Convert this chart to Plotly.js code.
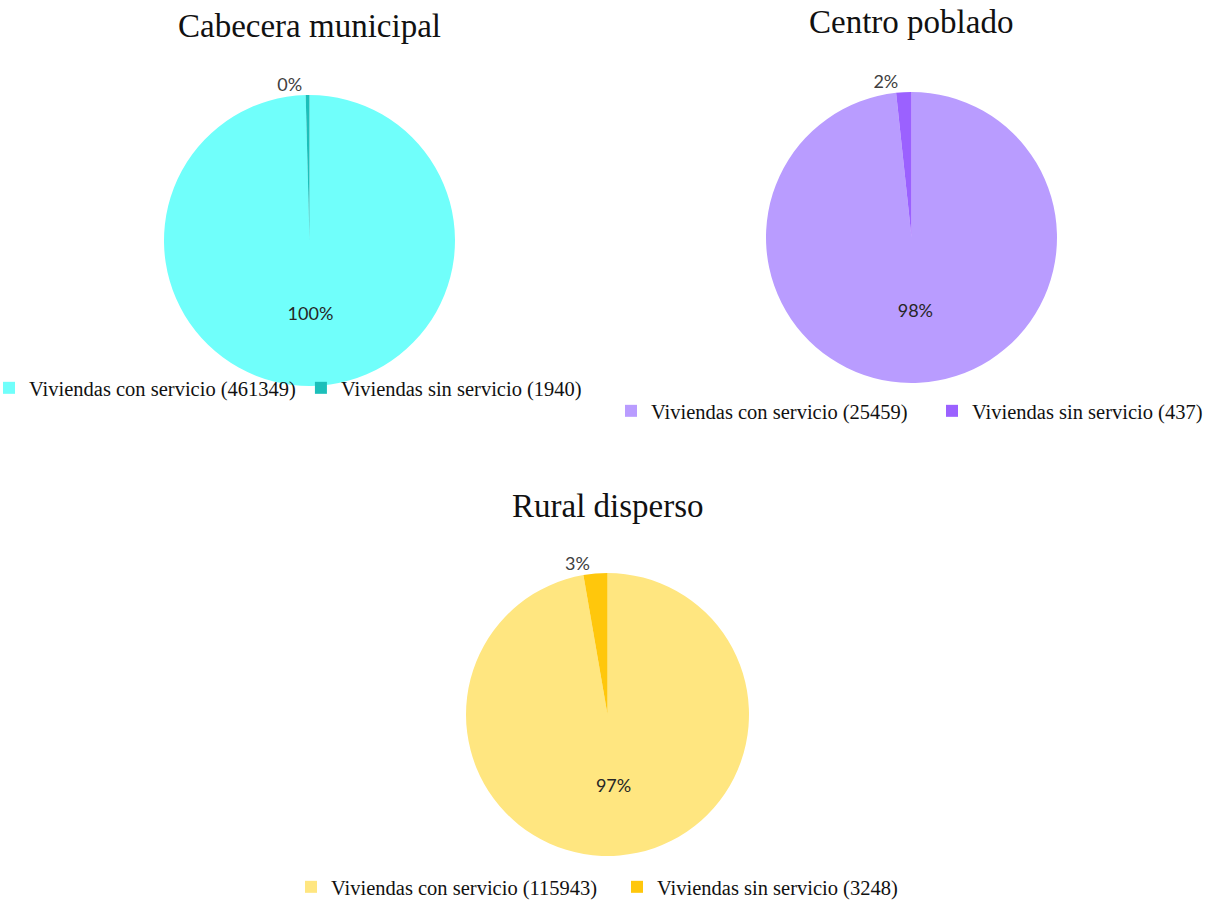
<!DOCTYPE html>
<html>
<head>
<meta charset="utf-8">
<script src="https://cdn.plot.ly/plotly-3.0.1.min.js"></script>
<style>html,body{margin:0;padding:0;background:#fff;}#chart{width:1211px;height:902px;}</style>
</head>
<body>
<div id="chart"></div>
<script>
const categories = ["Viviendas con servicio", "Viviendas sin servicio"];
const titles = ["Cabecera municipal", "Centro poblado", "Rural disperso"];
const cabeceraValues = [461349, 1940];
const centroValues = [25459, 437];
const ruralValues = [115943, 3248];
const cabeceraColors = ["#70FFFB", "#1CBFBA"];
const centroColors = ["#B99CFF", "#9B61FF"];
const ruralColors = ["#FFE680", "#FFC70C"];

const serif = "Liberation Serif, Times New Roman, serif";
const sans = "Lato, Carlito, Calibri, sans-serif";

function labelsFor(vals) {
  return categories.map((c, i) => c + " (" + vals[i] + ")");
}

function pieTrace(vals, colors, domain, legendId) {
  return {
    type: "pie",
    labels: labelsFor(vals),
    values: vals,
    sort: false,
    direction: "clockwise",
    rotation: 0,
    marker: {colors: colors, line: {width: 0}},
    texttemplate: "%{percent:.0%}",
    textinfo: "percent",
    textposition: ["inside", "outside"],
    insidetextorientation: "horizontal",
    textfont: {family: sans, size: 18, color: "#404040"},
    outsidetextfont: {family: sans, size: 18, color: "#404040"},
    insidetextfont: {family: sans, size: 18, color: "#262626"},
    domain: domain,
    legend: legendId,
    hoverinfo: "label+value+percent"
  };
}

const W = 1211, H = 902;
function dom(x0, x1, y0, y1) {
  return {x: [x0 / W, x1 / W], y: [1 - y1 / H, 1 - y0 / H]};
}

const data = [
  pieTrace(cabeceraValues, cabeceraColors, dom(164, 455, 95, 386), "legend"),
  pieTrace(centroValues, centroColors, dom(766, 1057, 92, 383), "legend2"),
  pieTrace(ruralValues, ruralColors, dom(466, 749, 573, 856), "legend3")
];

const legendBase = {
  orientation: "h",
  font: {family: serif, size: 20.5, color: "#111111"},
  bgcolor: "rgba(0,0,0,0)",
  xanchor: "left",
  yanchor: "middle",
  itemwidth: 30,
  tracegroupgap: 0
};

const layout = {
  width: W,
  height: H,
  margin: {l: 0, r: 0, t: 0, b: 0, autoexpand: false},
  paper_bgcolor: "#ffffff",
  showlegend: true,
  legend: Object.assign({}, legendBase, {x: -11 / W, y: 1 - 388 / H}),
  legend2: Object.assign({}, legendBase, {x: 611 / W, y: 1 - 411 / H, entrywidthmode: "pixels", entrywidth: 276}),
  legend3: Object.assign({}, legendBase, {x: 291 / W, y: 1 - 887 / H, entrywidthmode: "pixels", entrywidth: 281}),
  annotations: [
    {text: titles[0], x: 310 / W, y: 1 - 26 / H, xref: "paper", yref: "paper", xanchor: "center", yanchor: "middle", showarrow: false, font: {family: serif, size: 33, color: "#111111"}},
    {text: titles[1], x: 911 / W, y: 1 - 22 / H, xref: "paper", yref: "paper", xanchor: "center", yanchor: "middle", showarrow: false, font: {family: serif, size: 33, color: "#111111"}},
    {text: titles[2], x: 608 / W, y: 1 - 506 / H, xref: "paper", yref: "paper", xanchor: "center", yanchor: "middle", showarrow: false, font: {family: serif, size: 33, color: "#111111"}}
  ]
};

Plotly.newPlot("chart", data, layout, {displayModeBar: false, staticPlot: true});
</script>
</body>
</html>
